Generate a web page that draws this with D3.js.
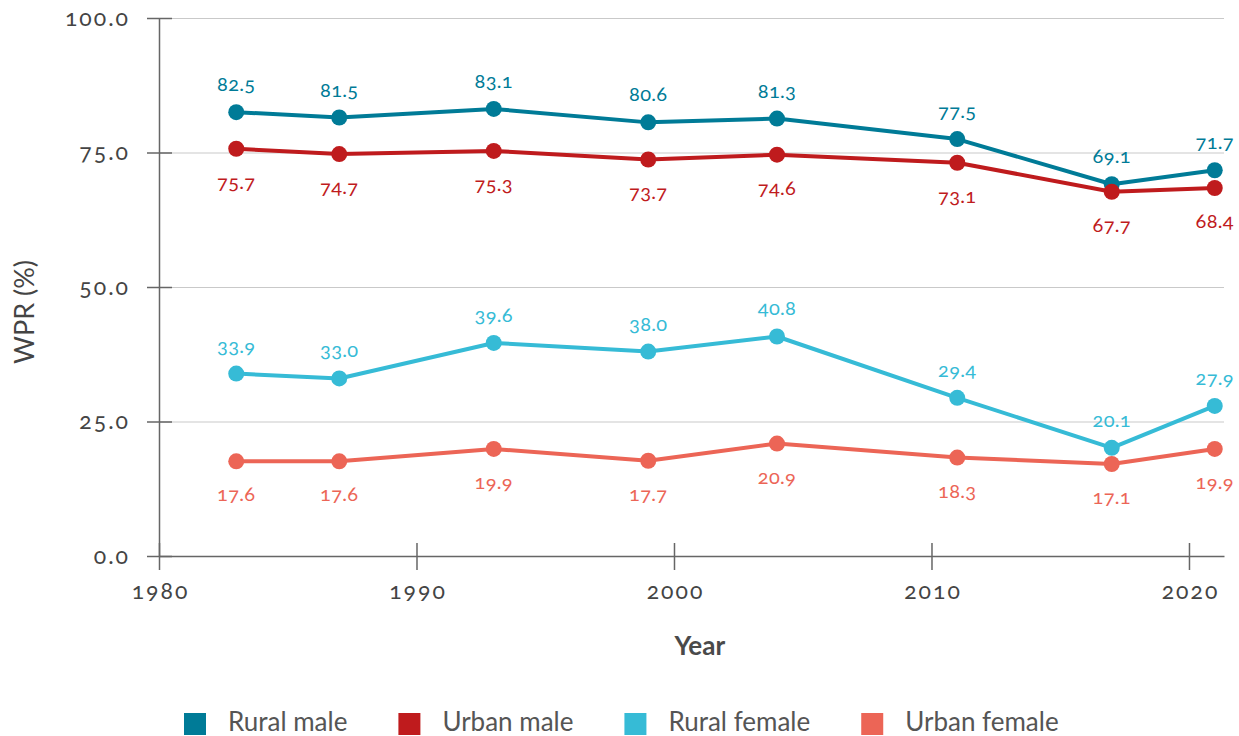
<!DOCTYPE html>
<html>
<head>
<meta charset="utf-8">
<script src="https://cdn.jsdelivr.net/npm/d3@7"></script>
<style>
  body { margin: 0; background: #fff; }
  text { font-family: Lato, "Open Sans", sans-serif; }
  .num { font-variant-numeric: oldstyle-nums; font-feature-settings: "onum" 1; }
</style>
</head>
<body>
<div id="chart"></div>
<script>
// data
const years = [1983, 1987, 1993, 1999, 2004, 2011, 2017, 2021];
const ruralMale = [82.5, 81.5, 83.1, 80.6, 81.3, 77.5, 69.1, 71.7];
const urbanMale = [75.7, 74.7, 75.3, 73.7, 74.6, 73.1, 67.7, 68.4];
const ruralFemale = [33.9, 33.0, 39.6, 38.0, 40.8, 29.4, 20.1, 27.9];
const urbanFemale = [17.6, 17.6, 19.9, 17.7, 20.9, 18.3, 17.1, 19.9];
const seriesNames = ["Rural male", "Urban male", "Rural female", "Urban female"];
const yTicks = [0, 25, 50, 75, 100];
const xTicks = [1980, 1990, 2000, 2010, 2020];

const colors = ["#007b97", "#bf1b1d", "#36bbd6", "#ec6556"];
const series = [ruralMale, urbanMale, ruralFemale, urbanFemale];
// label above (-1) or below (+1) the point
const labelSide = [-1, 1, -1, 1];

let margin = { top: 18, right: 15, bottom: 180, left: 159 },
  width = 1239 - margin.left - margin.right,
  height = 736 - margin.top - margin.bottom;

let svg = d3
  .select("#chart")
  .append("svg")
  .attr("width", 1239)
  .attr("height", 736);

let g = svg
  .append("g")
  .attr("transform", "translate(" + margin.left + "," + margin.top + ")");

let x = d3.scaleLinear().domain([1980, 2021.36]).range([0, width]);
let y = d3.scaleLinear().domain([0, 100]).range([height, 0]);

// gridlines
g.append("g")
  .call(d3.axisLeft(y).tickValues(yTicks.slice(1)).tickSize(-width).tickFormat(""))
  .call((a) => a.select(".domain").remove())
  .selectAll("line")
  .attr("stroke", "#c9c9c9")
  .attr("stroke-width", 1.2);

// Y-akse
let yAxis = g
  .append("g")
  .call(
    d3.axisLeft(y).tickValues(yTicks).tickSize(12).tickSizeOuter(0).tickPadding(17)
      .tickFormat(d3.format(".1f"))
  );
yAxis.selectAll("line").attr("x1", 13);
yAxis.selectAll("line, path").attr("stroke", "#666").attr("stroke-width", 1.5);
yAxis.selectAll("text")
  .attr("class", "num")
  .attr("fill", "#444")
  .style("font-size", "23px")
  .style("letter-spacing", "2px");

// X-akse
let xAxis = g
  .append("g")
  .attr("transform", "translate(0," + height + ")")
  .call(
    d3.axisBottom(x).tickValues(xTicks).tickSize(14).tickSizeOuter(0).tickPadding(13)
      .tickFormat(d3.format("d"))
  );
xAxis.selectAll("line").attr("y1", -13);
xAxis.selectAll("line, path").attr("stroke", "#666").attr("stroke-width", 1.5);
xAxis.selectAll("text")
  .attr("class", "num")
  .attr("fill", "#444")
  .attr("dx", "1px")
  .style("font-size", "23px")
  .style("letter-spacing", "2px");

// axis titles
g.append("text")
  .attr("x", x(2001))
  .attr("y", height + 99)
  .attr("text-anchor", "middle")
  .attr("fill", "#4a4a4a")
  .style("font-size", "26px")
  .style("font-weight", "700")
  .text("Year");

svg.append("text")
  .attr("transform", "translate(25,312)rotate(-90)")
  .attr("dy", "0.35em")
  .attr("text-anchor", "middle")
  .attr("fill", "#444")
  .style("font-size", "27px")
  .text("WPR (%)");

// lines, dots and value labels
let line = d3
  .line()
  .x((d, i) => x(years[i]))
  .y((d) => y(d));

series.forEach(function (values, s) {
  g.append("path")
    .datum(values)
    .attr("fill", "none")
    .attr("stroke", colors[s])
    .attr("stroke-width", 4)
    .attr("stroke-linejoin", "round")
    .attr("d", line);

  g.selectAll(".dot" + s)
    .data(values)
    .enter()
    .append("circle")
    .attr("cx", (d, i) => x(years[i]))
    .attr("cy", (d) => y(d))
    .attr("r", 8)
    .attr("fill", colors[s]);

  g.selectAll(".lab" + s)
    .data(values)
    .enter()
    .append("text")
    .attr("class", "num")
    .attr("x", (d, i) => x(years[i]))
    .attr("y", (d) => y(d) + (labelSide[s] < 0 ? -28 : 33))
    .attr("dy", "0.35em")
    .attr("text-anchor", "middle")
    .attr("fill", colors[s])
    .style("font-size", "20px")
    .style("letter-spacing", "0.3px")
    .text((d) => d.toFixed(1));
});

// legend
let lx = 184;
seriesNames.forEach(function (name, s) {
  svg.append("rect")
    .attr("x", lx)
    .attr("y", 713)
    .attr("width", 22)
    .attr("height", 22)
    .attr("fill", colors[s]);
  let t = svg.append("text")
    .attr("x", lx + 44)
    .attr("y", 722)
    .attr("dy", "0.35em")
    .attr("fill", "#555")
    .style("font-size", "26px")
    .text(name);
  lx += 44 + t.node().getComputedTextLength() + 51;
});
</script>
</body>
</html>
